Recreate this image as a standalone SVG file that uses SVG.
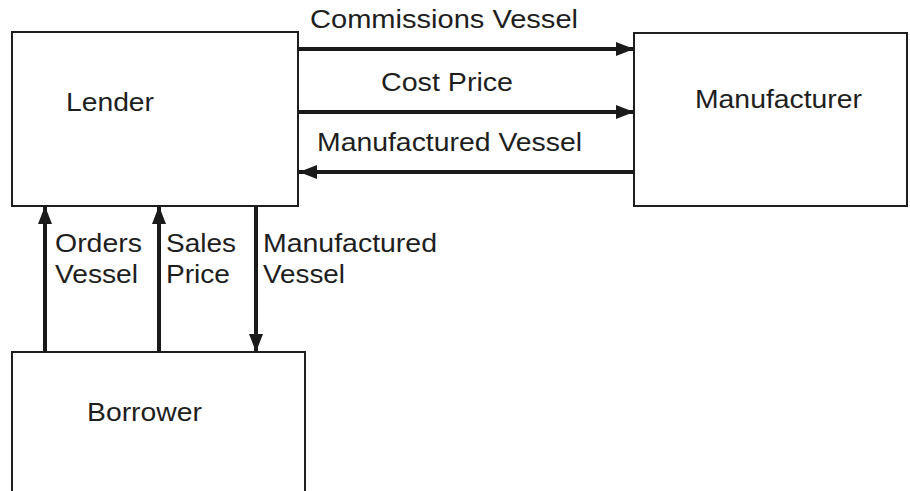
<svg xmlns="http://www.w3.org/2000/svg" width="910" height="491" viewBox="0 0 910 491">
  <style>
    .box { fill: #ffffff; stroke: #1e1e1e; stroke-width: 2; }
    .lbl { font-family: "Liberation Sans", Arial, sans-serif; font-size: 26.5px; fill: #1e1e1e; }
    .flow { stroke: #1a1a1a; stroke-width: 4; fill: none; marker-end: url(#head); }
  </style>
  <defs>
    <marker id="head" markerUnits="userSpaceOnUse" markerWidth="18" markerHeight="16" viewBox="0 0 18 16" refX="18" refY="8" orient="auto">
      <path d="M0,1 L18,8 L0,15 Z" fill="#1a1a1a"/>
    </marker>
  </defs>
  <rect width="910" height="491" fill="#ffffff"/>

  <g id="lender">
    <rect class="box" x="12" y="32" width="286" height="174"/>
    <text class="lbl" x="66" y="110.5" textLength="88" lengthAdjust="spacingAndGlyphs">Lender</text>
  </g>

  <g id="manufacturer">
    <rect class="box" x="634" y="33" width="273" height="173"/>
    <text class="lbl" x="695" y="108" textLength="167" lengthAdjust="spacingAndGlyphs">Manufacturer</text>
  </g>

  <g id="borrower">
    <rect class="box" x="12" y="352" width="293" height="142"/>
    <text class="lbl" x="87" y="420.5" textLength="115" lengthAdjust="spacingAndGlyphs">Borrower</text>
  </g>

  <g id="connectors">
    <line class="flow" x1="298" y1="49" x2="634" y2="49"/>
    <line class="flow" x1="298" y1="112" x2="634" y2="112"/>
    <line class="flow" x1="634" y1="172" x2="299" y2="172"/>
    <line class="flow" x1="45" y1="352" x2="45" y2="206"/>
    <line class="flow" x1="159" y1="352" x2="159" y2="206"/>
    <line class="flow" x1="256" y1="206" x2="256" y2="352"/>

    <text class="lbl" x="310" y="28" textLength="268" lengthAdjust="spacingAndGlyphs">Commissions Vessel</text>
    <text class="lbl" x="381" y="90.5" textLength="132" lengthAdjust="spacingAndGlyphs">Cost Price</text>
    <text class="lbl" x="317" y="150.5" textLength="265" lengthAdjust="spacingAndGlyphs">Manufactured Vessel</text>

    <text class="lbl" x="55" y="251.5" textLength="87" lengthAdjust="spacingAndGlyphs">Orders</text>
    <text class="lbl" x="55" y="283" textLength="83" lengthAdjust="spacingAndGlyphs">Vessel</text>
    <text class="lbl" x="166" y="251.5" textLength="70" lengthAdjust="spacingAndGlyphs">Sales</text>
    <text class="lbl" x="166" y="283" textLength="64" lengthAdjust="spacingAndGlyphs">Price</text>
    <text class="lbl" x="263" y="251.5" textLength="174" lengthAdjust="spacingAndGlyphs">Manufactured</text>
    <text class="lbl" x="263" y="283" textLength="82" lengthAdjust="spacingAndGlyphs">Vessel</text>
  </g>
</svg>
